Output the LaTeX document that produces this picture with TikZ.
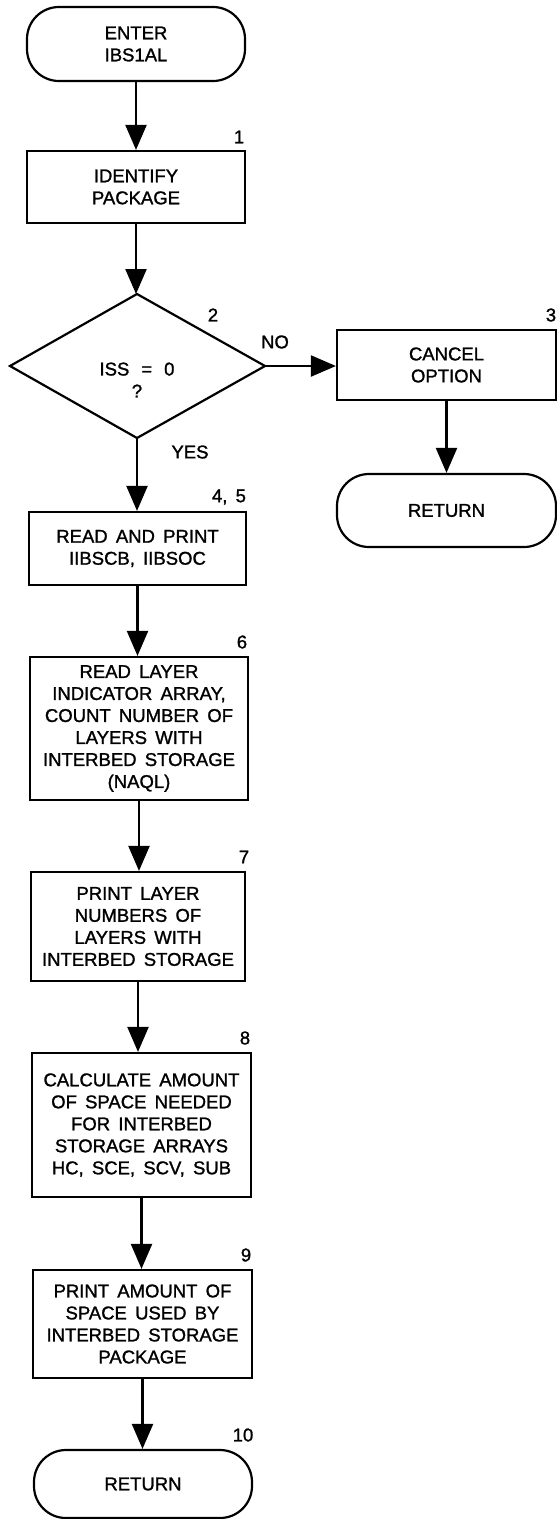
\documentclass[tikz,border=0pt]{standalone}
\usepackage{fontspec}
\setmainfont{Liberation Sans}[FakeBold=1.3, WordSpace=1.6]
\usetikzlibrary{arrows.meta}
\begin{document}
\begin{tikzpicture}[x=1pt,y=-1pt,
  every node/.style={font=\fontsize{18.5}{22}\selectfont, inner sep=0pt, align=center},
  proc/.style={draw, line width=2.2pt},
  term/.style={draw, line width=2.2pt, rounded corners=32pt},
  dec/.style={draw, line width=2.2pt},
  num/.style={},
  arr/.style={line width=2.2pt, -{Triangle[length=25pt,width=21pt]}}]
\useasboundingbox (0,0) rectangle (557,1519);
% nodes
\node[term, minimum width=218pt, minimum height=74pt] (enter) at (136,44) {ENTER\\IBS1AL};
\node[proc, minimum width=218pt, minimum height=72pt] (b1) at (136,187) {IDENTIFY\\PACKAGE};
\coordinate (dt) at (137,294);
\coordinate (dl) at (10,366);
\coordinate (dr) at (265,366);
\coordinate (db) at (137,438);
\draw[dec, line join=miter] (dt) -- (dr) -- (db) -- (dl) -- cycle;
\node (dia) at (137,380) {ISS\hspace{12pt}=\hspace{12pt}0\\?};
\node[proc, minimum width=219pt, minimum height=70pt] (b3) at (446.5,365) {CANCEL\\OPTION};
\node[term, minimum width=219pt, minimum height=73pt] (ret1) at (446.5,510.5) {RETURN};
\node[proc, minimum width=217pt, minimum height=73pt] (b4) at (137.5,548.5) {READ AND PRINT\\IIBSCB, IIBSOC};
\node[proc, minimum width=218pt, minimum height=143pt] (b6) at (139,728.5) {READ LAYER\\INDICATOR ARRAY,\\COUNT NUMBER OF\\LAYERS WITH\\INTERBED STORAGE\\(NAQL)};
\node[proc, minimum width=214pt, minimum height=109pt] (b7) at (138,926.5) {PRINT LAYER\\NUMBERS OF\\LAYERS WITH\\INTERBED STORAGE};
\node[proc, minimum width=219pt, minimum height=144pt] (b8) at (141.5,1125) {CALCULATE AMOUNT\\OF SPACE NEEDED\\FOR INTERBED\\STORAGE ARRAYS\\HC, SCE, SCV, SUB};
\node[proc, minimum width=219pt, minimum height=108pt] (b9) at (142.5,1324) {PRINT AMOUNT OF\\SPACE USED BY\\INTERBED STORAGE\\PACKAGE};
\node[term, minimum width=218pt, minimum height=68pt] (ret2) at (143,1484) {RETURN};
% labels
\node[num] (n1) at (239,137) {1};
\node[num] (n2) at (213,315) {2};
\node[num] (no) at (275,342) {NO};
\node[num] (n3) at (551,315) {3};
\node[num] (yes) at (190,452) {YES};
\node[num] (n45) at (229,497) {4, 5};
\node[num] (n6) at (242,642) {6};
\node[num] (n7) at (244,857) {7};
\node[num] (n8) at (245,1038) {8};
\node[num] (n9) at (246,1255) {9};
\node[num] (n10) at (243,1435) {10};
% connectors
\draw[arr] (enter.south) -- (enter.south |- b1.north);
\draw[arr] (b1.south) -- (b1.south |- dt);
\draw[arr] (dr) -- (dr -| b3.west);
\draw[arr] (b3.south) -- (b3.south |- ret1.north);
\draw[arr] (db) -- (db |- b4.north);
\draw[arr] (b4.south) -- (b4.south |- b6.north);
\draw[arr] (b6.south) -- (b6.south |- b7.north);
\draw[arr] (b7.south) -- (b7.south |- b8.north);
\draw[arr] (b8.south) -- (b8.south |- b9.north);
\draw[arr] (b9.south) -- (b9.south |- ret2.north);
\end{tikzpicture}
\end{document}
